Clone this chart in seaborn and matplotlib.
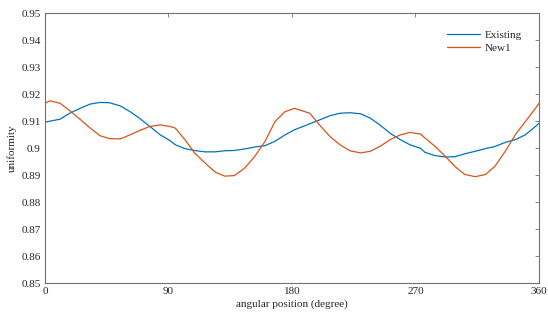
import pandas as pd
import matplotlib
matplotlib.use('Agg')
import matplotlib.pyplot as plt
import seaborn as sns

# angular positions (degree)
angle_existing = [0, 11, 18, 25.5, 33, 40, 47, 55, 62, 69, 76.5, 84, 91, 95, 102, 109,
                  116.6, 124, 131, 138, 145.8, 153, 160.4, 167.6, 175, 182, 193, 200,
                  207.7, 215, 222.3, 230, 237, 244, 251.5, 259, 266, 273.7, 277, 284.3,
                  291.6, 298.9, 306, 313.5, 321, 328, 335.4, 342.7, 350, 357.4, 360]
existing = [0.9096, 0.9107, 0.9129, 0.9147, 0.9163, 0.9169, 0.9168, 0.9156, 0.9135, 0.9110,
            0.9080, 0.9049, 0.9028, 0.9012, 0.8998, 0.8991, 0.8986, 0.8986, 0.8990, 0.8991,
            0.8997, 0.9004, 0.9009, 0.9025, 0.9049, 0.9068, 0.9090, 0.9104, 0.9120, 0.9129,
            0.9131, 0.9127, 0.9111, 0.9086, 0.9055, 0.9031, 0.9012, 0.8999, 0.8984, 0.8972,
            0.8967, 0.8968, 0.8979, 0.8988, 0.8998, 0.9006, 0.9021, 0.9031, 0.9049, 0.9080,
            0.9092]

angle_new1 = [0, 3.6, 11, 18, 25.5, 33, 40, 47, 55, 62, 69, 76.5, 84, 91, 95, 102, 109,
              116.6, 124, 131, 138, 145.8, 153, 160.4, 167.6, 175, 182, 193, 200, 207.7,
              215, 222.3, 230, 237, 244, 251.5, 259, 266, 273.7, 277, 284.3, 291.6, 298.9,
              306, 313.5, 321, 328, 335.4, 342.7, 350, 357.4, 360]
new1 = [0.9166, 0.9175, 0.9166, 0.9139, 0.9107, 0.9074, 0.9046, 0.9035, 0.9034, 0.9049,
        0.9065, 0.9080, 0.9086, 0.9080, 0.9074, 0.9031, 0.8982, 0.8945, 0.8911, 0.8896,
        0.8898, 0.8927, 0.8970, 0.9025, 0.9098, 0.9135, 0.9147, 0.9129, 0.9086, 0.9043,
        0.9012, 0.8990, 0.8982, 0.8988, 0.9006, 0.9031, 0.9049, 0.9058, 0.9052, 0.9037,
        0.9006, 0.8970, 0.8931, 0.8902, 0.8894, 0.8902, 0.8933, 0.8988, 0.9049, 0.9098,
        0.9147, 0.9166]

series_names = ['Existing', 'New1']
line_colors = ['#0072BD', '#D95319']
x_ticks = [0, 90, 180, 270, 360]
y_ticks = [0.85, 0.86, 0.87, 0.88, 0.89, 0.9, 0.91, 0.92, 0.93, 0.94, 0.95]

df = pd.concat([
    pd.DataFrame({'angle': angle_existing, 'uniformity': existing, 'series': 'Existing'}),
    pd.DataFrame({'angle': angle_new1, 'uniformity': new1, 'series': 'New1'}),
])

sns.set_style('white')
plt.rcParams['font.family'] = ['Liberation Serif', 'DejaVu Serif']
plt.rcParams['font.size'] = 8

fig = plt.figure(figsize=(5.48, 3.2), dpi=100)
ax = fig.add_axes([0.082, 0.1156, 0.9016, 0.8434])

sns.lineplot(data=df, x='angle', y='uniformity', hue='series', hue_order=series_names,
             palette=line_colors, linewidth=0.9, ax=ax, estimator=None, sort=False)

ax.set_xlim(0, 360)
ax.set_ylim(0.85, 0.95)
ax.set_xticks(x_ticks)
ax.set_xticklabels([str(t) for t in x_ticks])
ax.set_yticks(y_ticks)
ax.set_yticklabels(['%g' % t for t in y_ticks])
ax.set_xlabel('angular position (degree)', fontsize=8, labelpad=2)
ax.set_ylabel('uniformity', fontsize=8, labelpad=3)

for s in ax.spines.values():
    s.set_color('#707070')
    s.set_linewidth(0.8)
ax.tick_params(direction='in', length=3, width=0.6, color='#707070',
               top=True, right=True, labelsize=8, pad=3)

ax.legend(frameon=False, loc='upper right', bbox_to_anchor=(0.985, 0.975),
          fontsize=8, handlelength=3.0, handletextpad=0.4, labelspacing=0.35)

fig.savefig('out.png', dpi=100)
